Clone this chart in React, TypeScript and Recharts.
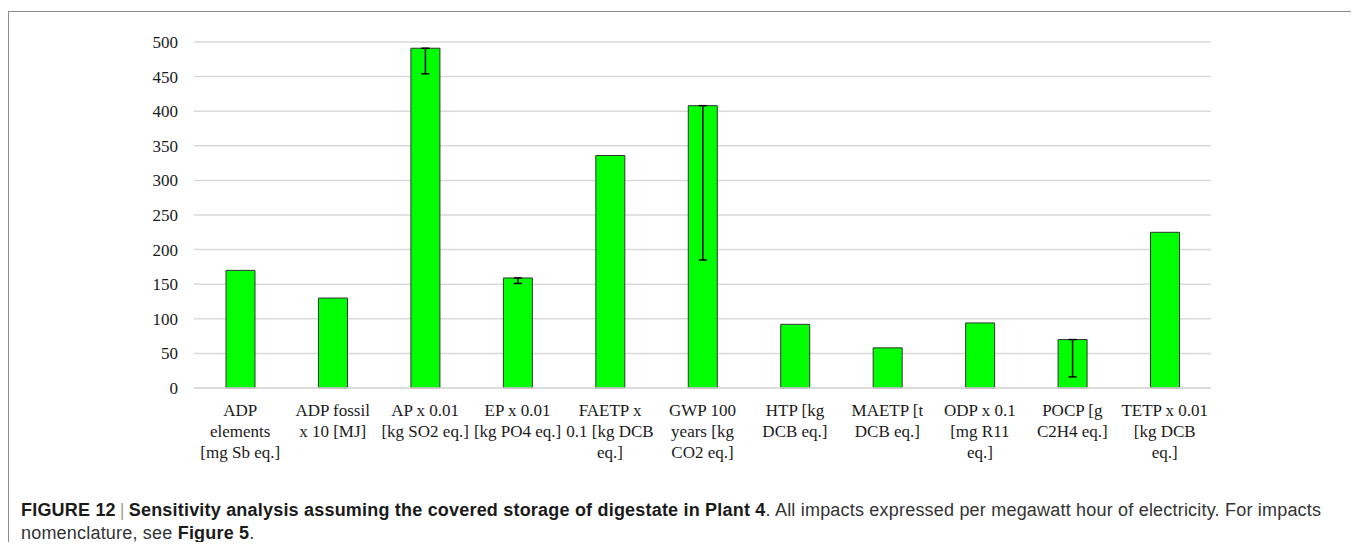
import { Bar, BarChart, CartesianGrid, ErrorBar, XAxis, YAxis } from "recharts";

// impact categories (line breaks follow the original label wrapping)
const categories = [
  "ADP\nelements\n[mg Sb eq.]",
  "ADP fossil\nx 10 [MJ]",
  "AP x 0.01\n[kg SO2 eq.]",
  "EP x 0.01\n[kg PO4 eq.]",
  "FAETP x\n0.1 [kg DCB\neq.]",
  "GWP 100\nyears [kg\nCO2 eq.]",
  "HTP [kg\nDCB eq.]",
  "MAETP [t\nDCB eq.]",
  "ODP x 0.1\n[mg R11\neq.]",
  "POCP [g\nC2H4 eq.]",
  "TETP x 0.01\n[kg DCB\neq.]",
];

const impactValues = [170, 130, 491, 159, 336, 408, 92, 58, 94, 70, 225];

// minus-only error bars, null where the sensitivity case shows none
const errorMinus: (number | null)[] = [null, null, 37, 8, null, 223, null, null, null, 54, null];

const yTicks = [0, 50, 100, 150, 200, 250, 300, 350, 400, 450, 500];

const data = categories.map((label, i) => ({
  label,
  value: impactValues[i],
  err: errorMinus[i] == null ? null : [errorMinus[i], 0],
}));

const serif = "'Liberation Serif', 'Times New Roman', serif";
const sans = "'Liberation Sans', Arial, Helvetica, sans-serif";

function CategoryTick({ x, y, payload }: any) {
  const lines = String(payload.value).split("\n");
  return (
    <text x={x} y={y} textAnchor="middle" fontFamily={serif} fontSize={17} fill="#1a1a1a">
      {lines.map((line, i) => (
        <tspan key={i} x={x} dy={i === 0 ? 20 : 21}>
          {line}
        </tspan>
      ))}
    </text>
  );
}

export default function App() {
  return (
    <div style={{ width: 1346, height: 534, paddingTop: 3, boxSizing: "border-box" }}>
      <style>{`html, body { overflow: hidden; }`}</style>
      <div
        style={{
          position: "relative",
          height: 560,
          border: "1px solid #8c8c8c",
          borderBottom: "none",
          boxSizing: "border-box",
        }}
      >
        <BarChart
          width={1340}
          height={460}
          data={data}
          margin={{ top: 30, right: 138, left: 0, bottom: 0 }}
          barSize={29}
        >
          <CartesianGrid vertical={false} stroke="#d9d9d9" strokeWidth={1.5} />
          <XAxis
            dataKey="label"
            interval={0}
            height={84}
            tickLine={false}
            axisLine={{ stroke: "#d9d9d9", strokeWidth: 1.5 }}
            tick={<CategoryTick />}
          />
          <YAxis
            domain={[0, 500]}
            ticks={yTicks}
            width={185}
            tickLine={false}
            axisLine={false}
            tickMargin={10}
            tick={{ fontFamily: serif, fontSize: 17, fill: "#1a1a1a" }}
          />
          <Bar dataKey="value" fill="#00ff00" stroke="#333333" strokeWidth={1} isAnimationActive={false}>
            <ErrorBar dataKey="err" direction="y" width={4} stroke="#000000" strokeWidth={1.5} />
          </Bar>
        </BarChart>
        <div
          style={{
            position: "absolute",
            left: 12,
            top: 487,
            fontFamily: sans,
            fontSize: 18,
            letterSpacing: 0.2,
            lineHeight: "23px",
            color: "#333333",
            whiteSpace: "nowrap",
          }}
        >
          <b style={{ color: "#1a1a1a" }}>FIGURE 12</b>
          <span style={{ color: "#a0a0a0", margin: "0 4px" }}>|</span>
          <b style={{ color: "#1a1a1a" }}>
            Sensitivity analysis assuming the covered storage of digestate in Plant 4
          </b>
          . All impacts expressed per megawatt hour of electricity. For impacts
          <br />
          nomenclature, see <b style={{ color: "#1a1a1a" }}>Figure 5</b>.
        </div>
      </div>
    </div>
  );
}
